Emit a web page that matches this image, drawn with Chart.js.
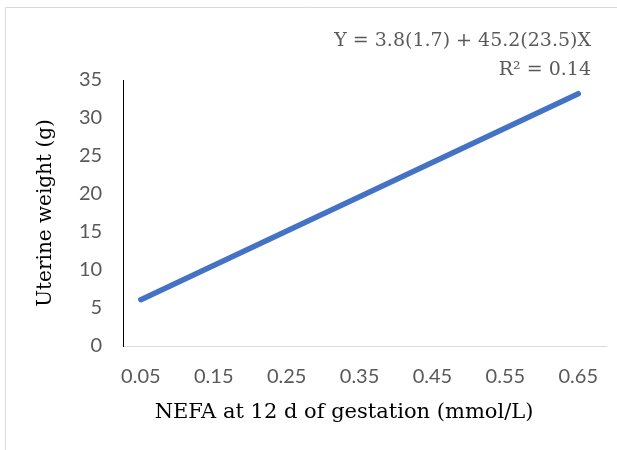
<!DOCTYPE html>
<html>
<head>
<meta charset="utf-8">
<script src="https://cdn.jsdelivr.net/npm/chart.js@4.4.1/dist/chart.umd.min.js"></script>
<style>
  html, body { margin: 0; padding: 0; background: #fff; }
  #wrap { width: 617px; height: 450px; }
</style>
</head>
<body>
<div id="wrap"><canvas id="c"></canvas></div>
<script>
// NEFA (mmol/L) vs uterine weight (g), fitted line
const nefa = [0.05, 0.65];
const uterineWeight = [6.1, 33.2];
const xTicks = [0.05, 0.15, 0.25, 0.35, 0.45, 0.55, 0.65];
const xTitle = 'NEFA at 12 d of gestation (mmol/L)';
const equationLines = ['Y = 3.8(1.7) + 45.2(23.5)X', 'R\u00b2 = 0.14'];

const serif = "'DejaVu Serif', 'Liberation Serif', serif";
const sans = "Lato, 'Open Sans', sans-serif";

// frame, x title (sits a bit left of the plot centre) and regression equation
const decor = {
  id: 'decor',
  beforeDraw(chart) {
    const ctx = chart.ctx;
    ctx.save();
    ctx.strokeStyle = '#d9d9d9';
    ctx.lineWidth = 1;
    ctx.beginPath();
    ctx.moveTo(5.5, 450);
    ctx.lineTo(5.5, 7.5);
    ctx.lineTo(617, 7.5);
    ctx.stroke();
    ctx.restore();
  },
  afterDraw(chart) {
    const ctx = chart.ctx;
    ctx.save();
    ctx.textBaseline = 'middle';
    ctx.fillStyle = '#000';
    ctx.font = '21px ' + serif;
    ctx.textAlign = 'center';
    ctx.fillText(xTitle, 344, 413);
    ctx.fillStyle = '#595959';
    ctx.font = '19px ' + serif;
    ctx.textAlign = 'right';
    ctx.fillText(equationLines[0], 591, 41);
    ctx.fillText(equationLines[1], 591, 70);
    ctx.restore();
  }
};

new Chart(document.getElementById('c'), {
  type: 'line',
  data: {
    datasets: [{
      data: nefa.map((x, i) => ({ x: x, y: uterineWeight[i] })),
      borderColor: '#4472C4',
      borderWidth: 5.5,
      borderCapStyle: 'round',
      pointRadius: 0,
      fill: false
    }]
  },
  options: {
    responsive: true,
    maintainAspectRatio: false,
    animation: false,
    layout: { padding: { top: 80, left: 34, right: 0, bottom: 42 } },
    plugins: { legend: { display: false }, tooltip: { enabled: false } },
    scales: {
      x: {
        type: 'linear',
        min: 0.0258,
        max: 0.689,
        afterBuildTicks: (axis) => { axis.ticks = xTicks.map(v => ({ value: v })); },
        grid: { display: false, drawTicks: false },
        border: { color: '#d9d9d9', width: 1 },
        ticks: {
          color: '#595959',
          font: { family: sans, size: 20 },
          padding: 19,
          callback: (v) => v.toFixed(2)
        }
      },
      y: {
        min: 0,
        max: 35,
        ticks: {
          stepSize: 5,
          color: '#595959',
          font: { family: sans, size: 20 },
          padding: 21
        },
        grid: { display: false, drawTicks: false },
        border: { color: '#000', width: 1 },
        title: {
          display: true,
          text: 'Uterine weight (g)',
          color: '#000',
          font: { family: serif, size: 20 },
          padding: { top: 0, bottom: 0 }
        }
      }
    }
  },
  plugins: [decor]
});
</script>
</body>
</html>
